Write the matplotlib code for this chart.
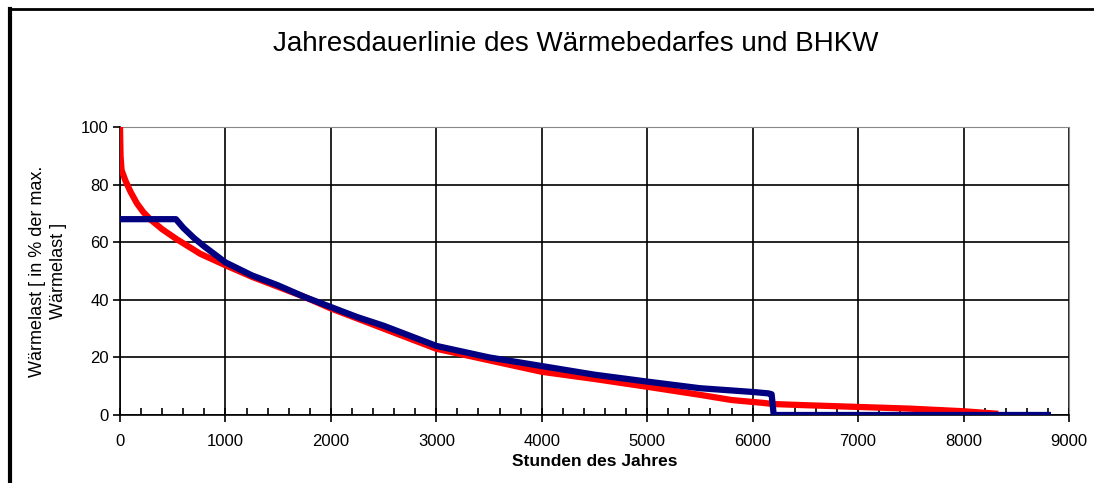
import matplotlib.pyplot as plt
from matplotlib.lines import Line2D
from matplotlib.ticker import MultipleLocator

plt.rcParams['font.family'] = ['Liberation Sans', 'DejaVu Sans']

# Wärmebedarf (Jahresdauerlinie)
hours_demand = [0, 5, 15, 50, 100, 160, 220, 285, 400, 540, 760, 1000, 1250, 1500, 1750,
                2000, 2250, 2500, 2750, 3000, 3500, 4000, 4500, 5000, 5500, 5800, 6100,
                6200, 6500, 7000, 7500, 8000, 8300]
load_demand = [100, 90, 85, 81.5, 77.5, 73.5, 70.5, 68, 64.5, 61, 56, 52, 48, 44.5, 41,
               37, 33.5, 30, 26.5, 23, 19, 15, 12.5, 9.8, 7, 5.2, 4.2,
               3.8, 3.4, 2.8, 2.2, 1.3, 0.5]

# BHKW
hours_chp = [0, 530, 600, 700, 800, 1000, 1250, 1500, 1750, 2000, 2250, 2500, 2750,
             3000, 3500, 4000, 4500, 5000, 5500, 6000, 6150, 6180, 6200, 8800]
load_chp = [68, 68, 65, 61.5, 58.5, 53, 48.5, 45, 41, 37.5, 34, 31, 27.5,
            24, 20, 17, 14, 11.6, 9.3, 8, 7.5, 7.2, 0, 0]

fig = plt.figure(figsize=(10.94, 4.83), dpi=100)
ax = fig.add_axes([0.1097, 0.1408, 0.8674, 0.5962])

ax.plot(hours_demand, load_demand, color='#ff0000', lw=4.5, solid_joinstyle='round', zorder=3)
ax.plot(hours_chp, load_chp, color='#000080', lw=4.5, solid_joinstyle='round', zorder=4)

ax.set_xlim(0, 9000)
ax.set_ylim(0, 100)
ax.xaxis.set_major_locator(MultipleLocator(1000))
ax.xaxis.set_minor_locator(MultipleLocator(200))
ax.yaxis.set_major_locator(MultipleLocator(20))

ax.grid(True, which='major', color='black', lw=1.2)
ax.set_axisbelow(True)
for s in ['top', 'right']:
    ax.spines[s].set_color('#888888')
for s in ['left', 'bottom']:
    ax.spines[s].set_color('black')
    ax.spines[s].set_linewidth(1.2)

ax.tick_params(axis='x', which='major', direction='inout', length=10, width=1.2,
               labelsize=12, pad=9)
ax.tick_params(axis='x', which='minor', direction='in', length=5, width=1.2)
ax.tick_params(axis='y', which='major', direction='out', length=5, width=1.2,
               labelsize=12, pad=3)

ax.set_xlabel('Stunden des Jahres', fontsize=12.5, fontweight='bold', labelpad=3)
ax.set_ylabel('Wärmelast [ in % der max.\nWärmelast ]', fontsize=13, labelpad=10,
              linespacing=1.3)

fig.text(0.5265, 0.909, 'Jahresdauerlinie des Wärmebedarfes und BHKW', fontsize=20,
         ha='center', va='center')

# Rahmen
fig.add_artist(Line2D([0.0095, 0.0095], [0.0, 0.982], transform=fig.transFigure,
                      color='black', lw=3))
fig.add_artist(Line2D([0.008, 1.0], [0.982, 0.982], transform=fig.transFigure,
                      color='black', lw=2))

fig.savefig('out.png', dpi=100)
